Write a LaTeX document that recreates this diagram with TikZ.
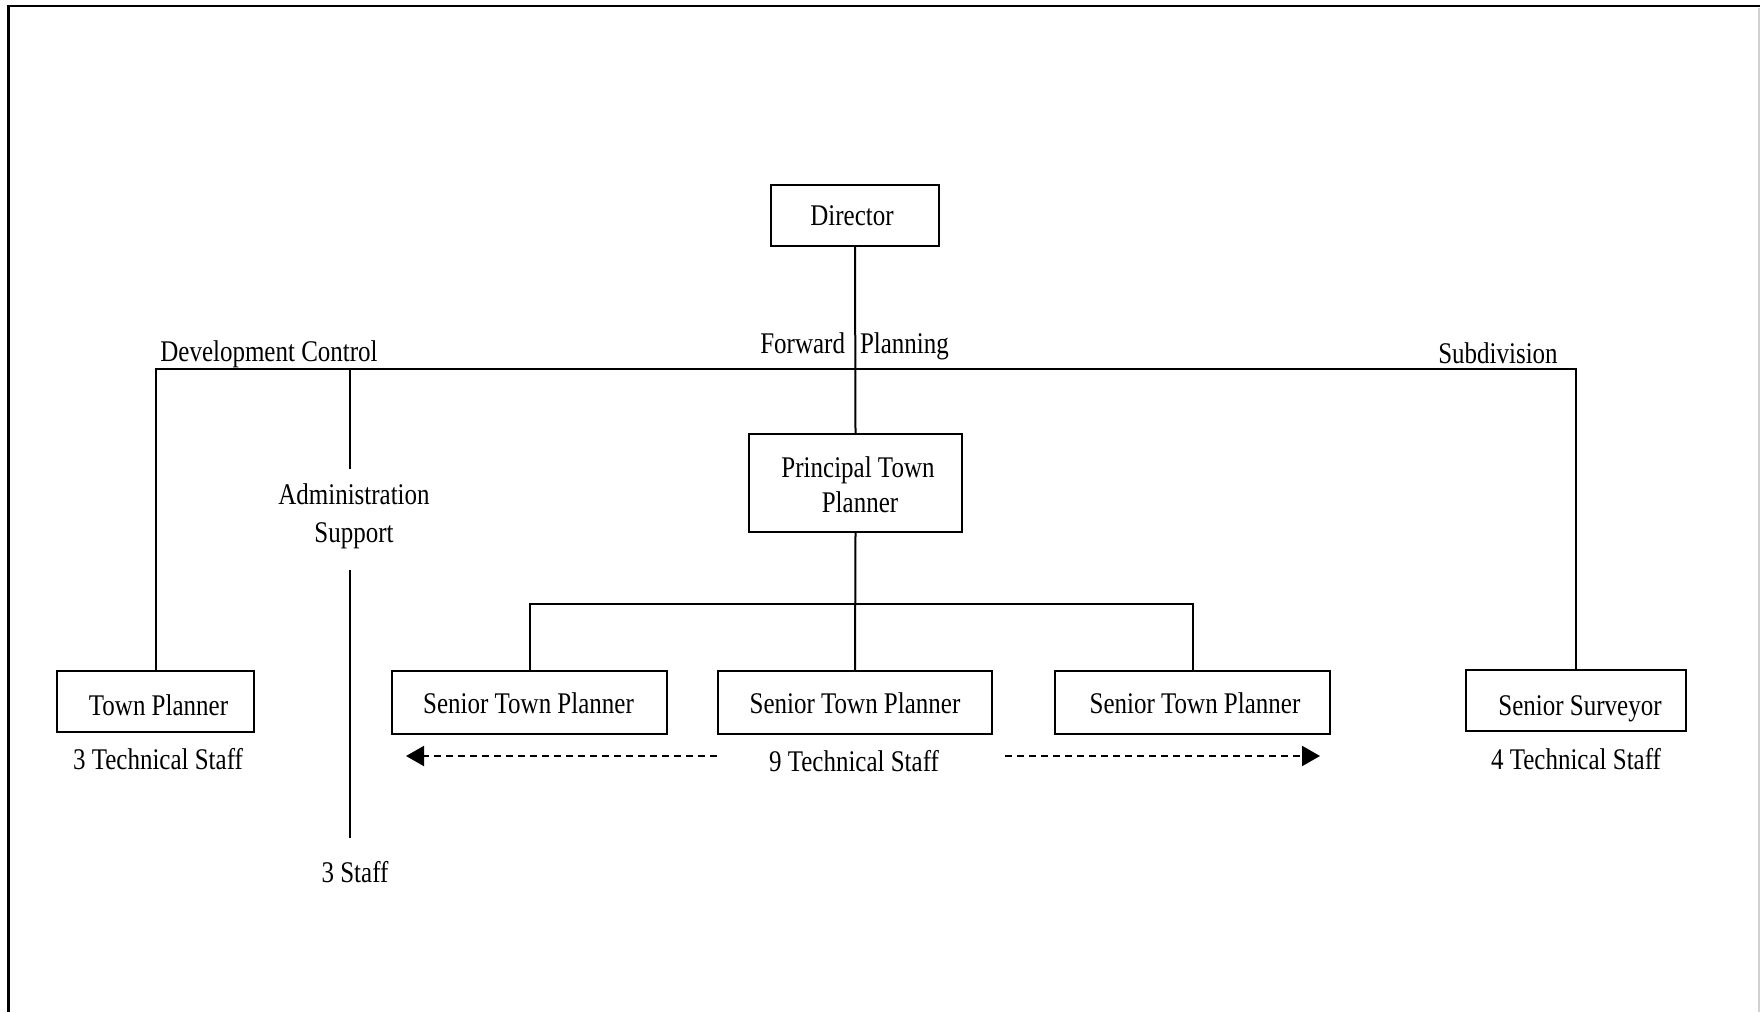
\documentclass[tikz,border=0pt]{standalone}
\usepackage{fontspec}
\setmainfont{Liberation Serif}[FakeStretch=0.833]
\usetikzlibrary{arrows.meta}
\begin{document}
\begin{tikzpicture}[x=1pt,y=-1pt,
  every path/.style={line width=2pt},
  txt/.style={font=\fontsize{30}{32}\selectfont, inner sep=0pt, align=center, anchor=base},
  box/.style={draw, line width=2pt, inner sep=0pt},
  spread/.style={dashed, dash pattern=on 7pt off 5pt, -{Triangle[length=18pt,width=20pt]}}]
\useasboundingbox (0,0) rectangle (1760,1012);

% frame
\draw[line width=2.5pt] (1760,6) -- (8.5,6) -- (8.5,1012);
\draw[line width=1.5pt, black!18] (1759,8) -- (1759,1012);

% boxes
\node[box, minimum width=168pt, minimum height=61pt] (dir) at (855,215.5) {};
\node[box, minimum width=213pt, minimum height=98pt] (ptp) at (855.5,483) {};
\node[box, minimum width=275pt, minimum height=63pt] (stpA) at (529.5,702.5) {};
\node[box, minimum width=274pt, minimum height=63pt] (stpB) at (855,702.5) {};
\node[box, minimum width=275pt, minimum height=63pt] (stpC) at (1192.5,702.5) {};
\node[box, minimum width=197pt, minimum height=61pt] (tp) at (155.5,701.5) {};
\node[box, minimum width=220pt, minimum height=61pt] (ss) at (1576,700.5) {};

% box titles
\node[txt] (dirT) at (852,225) {Director};
\node[txt] (ptpT) at (858,477) {Principal Town};
\node[txt] (ptpU) at (860,512) {Planner};
\node[txt] (stpAT) at (528.5,713) {Senior Town Planner};
\node[txt] (stpBT) at (855,713) {Senior Town Planner};
\node[txt] (stpCT) at (1195,713) {Senior Town Planner};
\node[txt] (tpT) at (158.5,715) {Town Planner};
\node[txt] (ssT) at (1580,715) {Senior Surveyor};

% section labels
\node[txt] (devc) at (269,361) {Development Control};
\node[txt, anchor=base east] (fwdA) at (846,353) {Forward};
\node[txt, anchor=base west] (fwdB) at (859,353) {Planning};
\node[txt] (subd) at (1498,363) {Subdivision};

% staff labels
\node[txt] (tsA) at (158,769) {3 Technical Staff};
\node[txt] (tsB) at (854,771) {9 Technical Staff};
\node[txt] (tsC) at (1576,769) {4 Technical Staff};

% administration
\node[txt] (adm) at (354,504) {Administration};
\node[txt] (admU) at (354,542) {Support};
\node[txt] (admS) at (355,882) {3 Staff};

% connectors
\coordinate (bar) at (855,369);
\coordinate (admTop) at (350,369);
\coordinate (admA) at (350,469);
\coordinate (admB) at (350,570);
\coordinate (admC) at (350,838);
\coordinate (fork) at (855,604);

\draw (dir.south) -- (ptp.north);
\draw (tp.north) |- (bar) -| (ss.north);
\draw (admTop) -- (admA);
\draw (admB) -- (admC);
\draw (ptp.south) -- (stpB.north);
\draw (stpA.north) |- (fork) -| (stpC.north);

% spread of technical staff
\coordinate (arrL0) at (717,756);
\coordinate (arrL1) at (406,756);
\coordinate (arrR0) at (1005,756);
\coordinate (arrR1) at (1320,756);
\draw[spread] (arrL0) -- (arrL1);
\draw[spread] (arrR0) -- (arrR1);
\end{tikzpicture}
\end{document}
